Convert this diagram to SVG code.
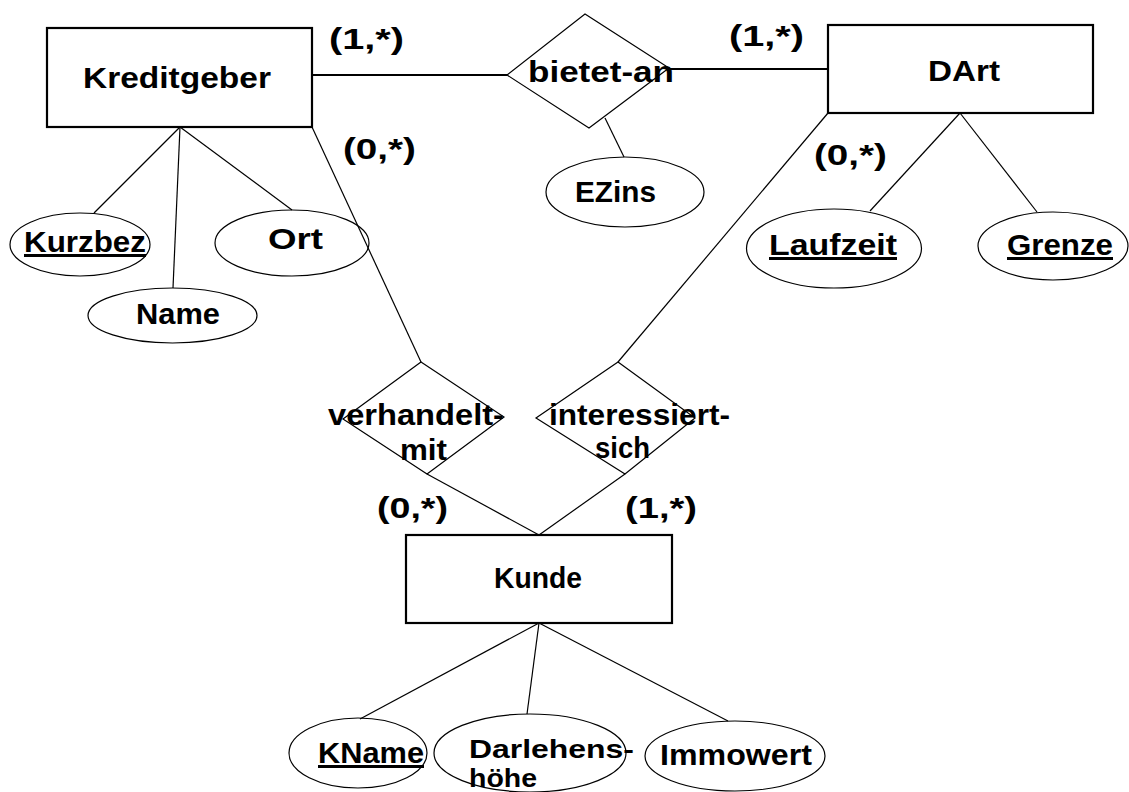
<svg xmlns="http://www.w3.org/2000/svg" width="1129" height="792" viewBox="0 0 1129 792">
<style>
  .ent { fill: #fff; stroke: #000; stroke-width: 2.2; }
  .rel { fill: none; stroke: #000; stroke-width: 1.2; }
  .att { fill: none; stroke: #000; stroke-width: 1.2; }
  .ln { stroke: #000; stroke-width: 1.2; fill: none; }
  .lnb { stroke: #000; stroke-width: 2.2; fill: none; }
  text { font-family: "Liberation Sans", Arial, sans-serif; font-weight: bold; font-size: 30px; fill: #000; }
  .key { text-decoration: underline; }
  .sm { font-size: 25px; }
</style>
<rect width="1129" height="792" fill="#fff"/>
<g id="connectors">
  <line class="lnb" x1="312" y1="75" x2="507" y2="75"/>
  <line class="lnb" x1="669" y1="69" x2="828" y2="69"/>
  <line class="ln" x1="605" y1="118" x2="624" y2="157"/>
  <line class="ln" x1="180" y1="127" x2="94" y2="213"/>
  <line class="ln" x1="180" y1="127" x2="173" y2="288"/>
  <line class="ln" x1="180" y1="127" x2="292" y2="210"/>
  <line class="ln" x1="312" y1="127" x2="421" y2="362"/>
  <line class="ln" x1="960" y1="113" x2="870" y2="211"/>
  <line class="ln" x1="960" y1="113" x2="1037" y2="212"/>
  <line class="ln" x1="828" y1="113" x2="618" y2="362"/>
  <line class="ln" x1="427" y1="474" x2="539" y2="535"/>
  <line class="ln" x1="625" y1="474" x2="539" y2="535"/>
  <line class="ln" x1="539" y1="623" x2="360" y2="719"/>
  <line class="ln" x1="539" y1="623" x2="527" y2="714"/>
  <line class="ln" x1="539" y1="623" x2="728" y2="721"/>
</g>
<g id="cardinalities">
  <text x="329" y="49" textLength="75" lengthAdjust="spacingAndGlyphs">(1,*)</text>
  <text x="343" y="159" textLength="73" lengthAdjust="spacingAndGlyphs">(0,*)</text>
  <text x="729" y="46" textLength="75" lengthAdjust="spacingAndGlyphs">(1,*)</text>
  <text x="814" y="165" textLength="73" lengthAdjust="spacingAndGlyphs">(0,*)</text>
  <text x="377" y="518" textLength="71" lengthAdjust="spacingAndGlyphs">(0,*)</text>
  <text x="625" y="518" textLength="72" lengthAdjust="spacingAndGlyphs">(1,*)</text>
</g>
<g id="Kreditgeber">
  <rect class="ent" x="47" y="28" width="265" height="99"/>
  <text x="83" y="88" textLength="188" lengthAdjust="spacingAndGlyphs">Kreditgeber</text>
</g>
<g id="DArt">
  <rect class="ent" x="828" y="25" width="265" height="88"/>
  <text x="928" y="81" textLength="72" lengthAdjust="spacingAndGlyphs">DArt</text>
</g>
<g id="Kunde">
  <rect class="ent" x="406" y="535" width="266" height="88"/>
  <text x="494" y="588" textLength="88" lengthAdjust="spacingAndGlyphs">Kunde</text>
</g>
<g id="bietet-an">
  <polygon class="rel" points="507,75 585,14 669,68 589,128"/>
  <text x="528" y="82" textLength="146" lengthAdjust="spacingAndGlyphs">bietet-an</text>
</g>
<g id="verhandelt-mit">
  <polygon class="rel" points="421,362 504,417 427,474 343,419"/>
  <text x="328" y="425" textLength="176" lengthAdjust="spacingAndGlyphs">verhandelt-</text>
  <text x="400" y="460" textLength="47" lengthAdjust="spacingAndGlyphs">mit</text>
</g>
<g id="interessiert-sich">
  <polygon class="rel" points="618,362 695,418 625,474 536,418"/>
  <text x="549" y="425" textLength="181" lengthAdjust="spacingAndGlyphs">interessiert-</text>
  <text x="595" y="458" textLength="55" lengthAdjust="spacingAndGlyphs">sich</text>
</g>
<g id="Kurzbez">
  <ellipse class="att" cx="80" cy="244.5" rx="70" ry="31.5"/>
  <text class="key" x="24" y="252" textLength="122" lengthAdjust="spacingAndGlyphs">Kurzbez</text>
</g>
<g id="Name">
  <ellipse class="att" cx="172.5" cy="315.5" rx="84.5" ry="27.5"/>
  <text x="136" y="324" textLength="84" lengthAdjust="spacingAndGlyphs">Name</text>
</g>
<g id="Ort">
  <ellipse class="att" cx="292" cy="243" rx="77" ry="33"/>
  <text x="268" y="249" textLength="55" lengthAdjust="spacingAndGlyphs">Ort</text>
</g>
<g id="EZins">
  <ellipse class="att" cx="625" cy="192" rx="79" ry="35"/>
  <text x="575" y="202" textLength="81" lengthAdjust="spacingAndGlyphs">EZins</text>
</g>
<g id="Laufzeit">
  <ellipse class="att" cx="834" cy="248.5" rx="87.5" ry="39.5"/>
  <text class="key" x="769" y="255" textLength="128" lengthAdjust="spacingAndGlyphs">Laufzeit</text>
</g>
<g id="Grenze">
  <ellipse class="att" cx="1053" cy="246" rx="75" ry="34"/>
  <text class="key" x="1007" y="255" textLength="106" lengthAdjust="spacingAndGlyphs">Grenze</text>
</g>
<g id="KName">
  <ellipse class="att" cx="358" cy="753" rx="69" ry="35"/>
  <text class="key" x="318" y="763" textLength="106" lengthAdjust="spacingAndGlyphs">KName</text>
</g>
<g id="Darlehenshoehe">
  <ellipse class="att" cx="530" cy="753" rx="96" ry="39"/>
  <text class="sm" x="469" y="758" textLength="165" lengthAdjust="spacingAndGlyphs">Darlehens-</text>
  <text class="sm" x="469" y="787" textLength="68" lengthAdjust="spacingAndGlyphs">höhe</text>
</g>
<g id="Immowert">
  <ellipse class="att" cx="735" cy="756" rx="90" ry="35"/>
  <text x="660" y="765" textLength="152" lengthAdjust="spacingAndGlyphs">Immowert</text>
</g>
</svg>
